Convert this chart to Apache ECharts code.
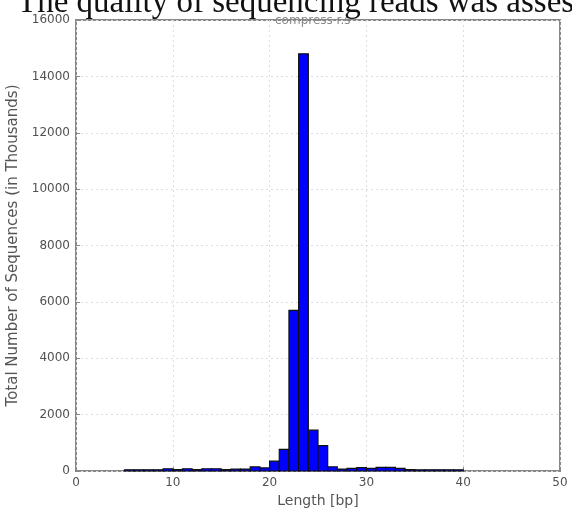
<!DOCTYPE html>
<html lang="en" style="height: 100%">
    <head>
        <meta charset="utf-8">
        <title>Read length</title>
    </head>
    <body style="height: 100%; margin: 0; background: #fff">
        <div id="container" style="width: 572px; height: 509px"></div>
        <script src="https://cdn.jsdelivr.net/npm/echarts@6/dist/echarts.min.js"></script>
        <script>
            // read length bins (start of each 1 bp bin) and counts in thousands
            let binStarts = [5, 6, 7, 8, 9, 10, 11, 12, 13, 14, 15, 16, 17, 18, 19, 20, 21, 22,
                23, 24, 25, 26, 27, 28, 29, 30, 31, 32, 33, 34, 35, 36, 37, 38, 39];
            let counts = [45, 45, 45, 45, 80, 50, 80, 50, 80, 80, 50, 70, 70, 150, 110, 350, 770, 5700,
                14800, 1450, 900, 150, 70, 90, 120, 90, 130, 130, 90, 50, 45, 45, 45, 45, 45];
            let xTicks = [0, 10, 20, 30, 40, 50];
            let yTicks = [0, 2000, 4000, 6000, 8000, 10000, 12000, 14000, 16000];

            let titleText = "The quality of sequencing reads was assessed";
            let subTitleText = "compress r.s";
            let xName = "Length [bp]";
            let yName = "Total Number of Sequences (in Thousands)";

            let seriesData = binStarts.map(function (x, i) {
                return [x, counts[i]];
            });

            function drawChart() {
                let dom = document.getElementById("container");
                let chart = echarts.init(dom, null, { renderer: "canvas" });

                let labelStyle = {
                    color: "#505050",
                    fontSize: 12,
                    fontFamily: "DejaVu Sans",
                    formatter: function (v) { return String(v); }
                };

                let option = {
                    animation: false,
                    title: [
                        {
                            text: subTitleText,
                            left: 270,
                            top: 10,
                            textStyle: { color: "#888", fontSize: 12, fontWeight: "normal", fontFamily: "DejaVu Sans" }
                        },
                        {
                            text: titleText,
                            left: 12,
                            top: -18,
                            textStyle: { color: "#111", fontSize: 33, fontWeight: "normal", fontFamily: "Liberation Serif" }
                        }
                    ],
                    grid: {
                        left: 76,
                        right: 12,
                        top: 20,
                        bottom: 38,
                        outerBoundsMode: "none",
                        show: true,
                        borderColor: "#888",
                        borderWidth: 2
                    },
                    xAxis: {
                        type: "value",
                        min: xTicks[0],
                        max: xTicks[xTicks.length - 1],
                        interval: 10,
                        name: xName,
                        nameLocation: "middle",
                        nameGap: 19,
                        nameTextStyle: { color: "#555", fontSize: 14, fontFamily: "DejaVu Sans" },
                        axisLine: { show: false },
                        axisTick: { show: true, inside: true, length: 4, lineStyle: { color: "#888" } },
                        axisLabel: Object.assign({ margin: 6 }, labelStyle),
                        splitLine: { show: true, lineStyle: { color: "#ddd", type: [2, 3] } }
                    },
                    yAxis: {
                        type: "value",
                        min: yTicks[0],
                        max: yTicks[yTicks.length - 1],
                        interval: 2000,
                        name: yName,
                        nameLocation: "middle",
                        nameGap: 46,
                        nameTextStyle: { color: "#555", fontSize: 15, fontFamily: "DejaVu Sans" },
                        axisLine: { show: false },
                        axisTick: { show: true, inside: true, length: 4, lineStyle: { color: "#888" } },
                        axisLabel: Object.assign({ margin: 6 }, labelStyle),
                        splitLine: { show: true, lineStyle: { color: "#ddd", type: [2, 3] } }
                    },
                    series: [
                        {
                            type: "custom",
                            data: seriesData,
                            encode: { x: 0, y: 1 },
                            renderItem: function (params, api) {
                                let x0 = api.value(0);
                                let v = api.value(1);
                                let topLeft = api.coord([x0, v]);
                                let bottomRight = api.coord([x0 + 1, 0]);
                                return {
                                    type: "rect",
                                    shape: {
                                        x: topLeft[0],
                                        y: topLeft[1],
                                        width: bottomRight[0] - topLeft[0],
                                        height: bottomRight[1] - topLeft[1]
                                    },
                                    style: {
                                        fill: "#0000ff",
                                        stroke: "#111",
                                        lineWidth: 1.2
                                    }
                                };
                            }
                        }
                    ]
                };

                chart.setOption(option);
            }

            drawChart();
        </script>
    </body>
</html>
